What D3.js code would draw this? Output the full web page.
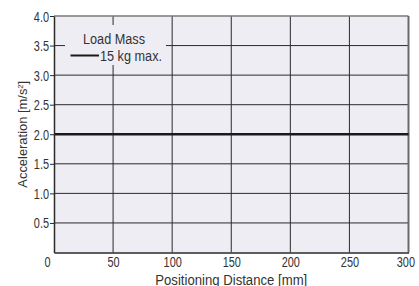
<!DOCTYPE html>
<html>
<head>
<meta charset="utf-8">
<script src="https://cdn.jsdelivr.net/npm/d3@7"></script>
<style>
  body { margin: 0; background: #fff; }
  #chart { width: 419px; height: 286px; }
  text { font-family: "Liberation Sans Narrow", "Arial Narrow", "Liberation Sans", sans-serif; fill: #333; }
</style>
</head>
<body>
<div id="chart"></div>
<script>
// data
const xTicks = [0, 50, 100, 150, 200, 250, 300];
const yTicks = [0.5, 1.0, 1.5, 2.0, 2.5, 3.0, 3.5, 4.0];
const distance = [0, 300];
const accel15kg = [2.0, 2.0];
const legendTitle = "Load Mass";
const legendLabel = "15 kg max.";

const container = d3.select("#chart");

const margin = { top: 16, right: 10.5, bottom: 33.5, left: 54 };
const svgWidth = 419;
const svgHeight = 286;
const width = svgWidth - margin.left - margin.right;
const height = svgHeight - margin.top - margin.bottom;

const svg = container.append("svg")
  .attr("width", svgWidth)
  .attr("height", svgHeight)
  .append("g")
  .attr("transform", `translate(${margin.left}, ${margin.top})`);

// no narrow font installed, so squeeze text horizontally
function squeeze(sel, factor) {
  sel.each(function () {
    const w = this.getComputedTextLength();
    d3.select(this)
      .attr("textLength", w * factor)
      .attr("lengthAdjust", "spacingAndGlyphs");
  });
}

const x = d3.scaleLinear().domain([0, 300]).range([0, width]);
const y = d3.scaleLinear().domain([0, 4]).range([height, 0]);

// plot background
svg.append("rect")
  .attr("width", width)
  .attr("height", height)
  .attr("fill", "#efedf4");

// grid
svg.append("g")
  .selectAll("line")
  .data(xTicks.filter(d => d > 0 && d < 300))
  .join("line")
  .attr("x1", d => x(d)).attr("x2", d => x(d))
  .attr("y1", 0).attr("y2", height)
  .attr("stroke", "#2a2a2a")
  .attr("stroke-width", 1);

svg.append("g")
  .selectAll("line")
  .data(yTicks.filter(d => d < 4))
  .join("line")
  .attr("x1", 0).attr("x2", width)
  .attr("y1", d => y(d)).attr("y2", d => y(d))
  .attr("stroke", "#2a2a2a")
  .attr("stroke-width", 1);

// top and right border
svg.append("line")
  .attr("x1", 0).attr("x2", width)
  .attr("y1", 0).attr("y2", 0)
  .attr("stroke", "#7a7a7a").attr("stroke-width", 1.5);
svg.append("line")
  .attr("x1", width).attr("x2", width)
  .attr("y1", 0).attr("y2", height)
  .attr("stroke", "#6a6a6a").attr("stroke-width", 2);

// legend box masks the grid
svg.append("rect")
  .attr("x", 11).attr("y", 9)
  .attr("width", 101).attr("height", 40)
  .attr("fill", "#efedf4");

// data line
const line = d3.line()
  .x(d => x(d[0]))
  .y(d => y(d[1]));

svg.append("path")
  .datum(d3.zip(distance, accel15kg))
  .attr("fill", "none")
  .attr("stroke", "#1a1a1a")
  .attr("stroke-width", 2.5)
  .attr("d", line);

// axes
const yAxis = svg.append("g")
  .call(d3.axisLeft(y).tickValues(yTicks).tickSize(4).tickSizeOuter(0).tickFormat(d3.format(".1f")));
const xAxis = svg.append("g")
  .attr("transform", `translate(0, ${height})`)
  .call(d3.axisBottom(x).tickValues(xTicks).tickSize(0).tickSizeOuter(0).tickPadding(4));

yAxis.select(".domain").attr("stroke", "#2a2a2a").attr("stroke-width", 1.5);
xAxis.select(".domain").attr("stroke", "#2a2a2a").attr("stroke-width", 1.5);
yAxis.selectAll(".tick line").attr("stroke", "#2a2a2a");
yAxis.selectAll(".tick text")
  .attr("x", -5)
  .attr("dy", "0.36em")
  .style("font-size", "14px")
  .call(squeeze, 0.78);
xAxis.selectAll(".tick text")
  .attr("y", 14)
  .attr("dy", 0)
  .attr("dx", d => d === 0 ? -7 : 0)
  .style("font-size", "14px")
  .call(squeeze, 0.78);
// last label kept inside the right edge
xAxis.selectAll(".tick text")
  .filter(d => d === 300)
  .attr("text-anchor", "end")
  .attr("dx", 6);
svg.selectAll(".tick text").style("fill", "#333");

// axis titles
const xTitle = svg.append("text")
  .attr("x", width / 2)
  .attr("y", height + 32)
  .attr("text-anchor", "middle")
  .style("font-size", "14px")
  .text("Positioning Distance [mm]");
xTitle.attr("textLength", 152).attr("lengthAdjust", "spacingAndGlyphs");

const yTitle = svg.append("text")
  .attr("x", -height / 2)
  .attr("y", -27)
  .attr("text-anchor", "middle")
  .style("font-size", "13.5px");
yTitle.append("tspan").text("Acceleration [m/s");
yTitle.append("tspan").attr("dy", -4).style("font-size", "8px").text("2");
yTitle.append("tspan").attr("dy", 4).text("]");
const yTitleLen = yTitle.node().getComputedTextLength();
const k = 107 / yTitleLen;
yTitle.attr("x", -height / 2 / k)
  .attr("transform", `rotate(-90) scale(${k}, 1)`);

// legend
svg.append("text")
  .attr("x", 60)
  .attr("y", 27.5)
  .attr("text-anchor", "middle")
  .style("font-size", "14px")
  .attr("textLength", 62)
  .attr("lengthAdjust", "spacingAndGlyphs")
  .text(legendTitle);

svg.append("line")
  .attr("x1", 16.5).attr("x2", 45)
  .attr("y1", 39.5).attr("y2", 39.5)
  .attr("stroke", "#1a1a1a")
  .attr("stroke-width", 2);

svg.append("text")
  .attr("x", 46)
  .attr("y", 44.5)
  .style("font-size", "14px")
  .attr("textLength", 62)
  .attr("lengthAdjust", "spacingAndGlyphs")
  .text(legendLabel);
</script>
</body>
</html>
